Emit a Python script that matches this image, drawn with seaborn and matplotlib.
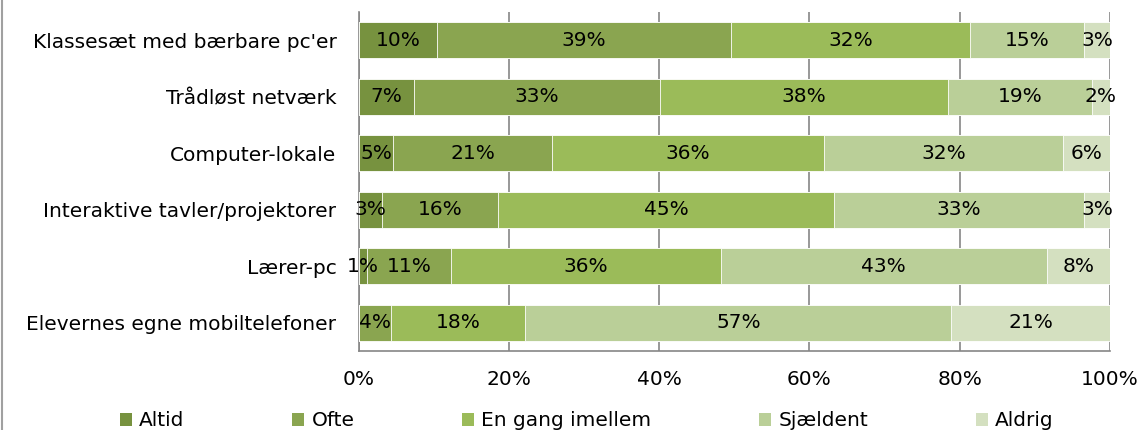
import numpy as np
import pandas as pd
import matplotlib
matplotlib.use("Agg")
import matplotlib.pyplot as plt
import seaborn as sns
from matplotlib.lines import Line2D
from matplotlib.patches import Patch

categories = [
    "Klassesæt med bærbare pc'er",
    "Trådløst netværk",
    "Computer-lokale",
    "Interaktive tavler/projektorer",
    "Lærer-pc",
    "Elevernes egne mobiltelefoner",
]
series = ["Altid", "Ofte", "En gang imellem", "Sjældent", "Aldrig"]

altid = [10.4, 7.4, 4.6, 3.1, 1.1, 0.0]
ofte = [39.1, 32.7, 21.1, 15.5, 11.2, 4.3]
en_gang = [31.9, 38.4, 36.2, 44.6, 35.9, 17.9]
sjaeldent = [15.2, 19.1, 31.9, 33.4, 43.4, 56.7]
aldrig = [3.4, 2.4, 6.2, 3.4, 8.4, 21.1]

colors = ["#77923F", "#8AA550", "#9BBB59", "#BACF98", "#D4E0C0"]

df = pd.DataFrame(
    {"Kategori": categories, "Altid": altid, "Ofte": ofte,
     "En gang imellem": en_gang, "Sjældent": sjaeldent, "Aldrig": aldrig}
)
cum = df[series].cumsum(axis=1)

sns.set_style("white")
plt.rcParams["font.family"] = ["DejaVu Sans"]
plt.rcParams["text.color"] = "black"
FS = 14.5

fig = plt.figure(figsize=(11.44, 4.30), dpi=100)
ax = fig.add_axes([358.7 / 1144, 1 - 351 / 430, (1110 - 358.7) / 1144, (351 - 12) / 430])

# stacked bars: draw cumulative totals from right to left
for name, col in reversed(list(zip(series, colors))):
    sns.barplot(data=cum.assign(Kategori=df["Kategori"]), x=name, y="Kategori",
                color=col, orient="h", width=0.64, ax=ax, zorder=3,
                edgecolor="white", linewidth=0.6, saturation=1)

# data labels
for i, cat in enumerate(categories):
    left = 0
    for name in series:
        v = df.loc[i, name]
        if v > 0:
            ax.text(left + v / 2, i, f"{v:.0f}%", ha="center", va="center",
                    fontsize=FS, color="black", zorder=5)
        left += v

ax.set_xlim(0, 100)
ax.set_ylim(5.5, -0.5)
ax.set_xticks(np.arange(0, 101, 20))
ax.set_xticklabels([f"{t}%" for t in range(0, 101, 20)], fontsize=FS, color="black")
ax.set_yticks(range(len(categories)))
ax.set_yticklabels(categories, fontsize=FS, color="black")
ax.set_xlabel("")
ax.set_ylabel("")
ax.tick_params(axis="y", length=0, pad=16)
ax.tick_params(axis="x", length=0, pad=14)
ax.xaxis.grid(True, color="#868686", linewidth=1.2, zorder=0)
ax.set_axisbelow(True)
for s in ["top", "right"]:
    ax.spines[s].set_visible(False)
for s in ["left", "bottom"]:
    ax.spines[s].set_color("#868686")
    ax.spines[s].set_linewidth(1.2)

handles = [Patch(facecolor=c, edgecolor="none") for c in colors]
fig.legend(handles, series, loc="center", bbox_to_anchor=(0.513, 1 - 421 / 430),
           ncol=5, frameon=False, fontsize=FS, handlelength=0.6, handleheight=0.6,
           handletextpad=0.35, columnspacing=5.35)

# chart frame edge on the left
fig.add_artist(Line2D([2 / 1144, 2 / 1144], [0, 1], color="#A0A0A0", linewidth=1.5,
                      transform=fig.transFigure))

fig.savefig("out.png", dpi=100)
